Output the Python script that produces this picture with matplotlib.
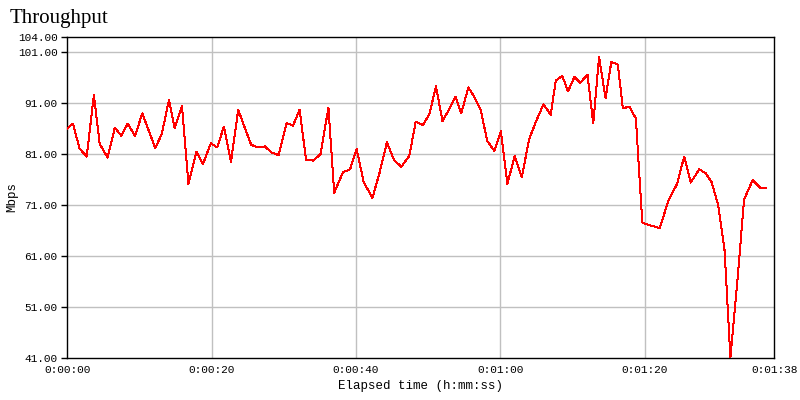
import matplotlib
matplotlib.use("Agg")
import matplotlib.pyplot as plt

# elapsed seconds of each sample and measured throughput (Mbps)
seconds = [0.0, 0.8, 1.7, 2.7, 3.7, 4.5, 5.6, 6.6, 7.5, 8.4,
           9.4, 10.4, 11.3, 12.2, 13.1, 14.1, 14.9, 15.9, 16.8, 17.9,
           18.8, 19.9, 20.8, 21.7, 22.7, 23.7, 24.6, 25.5, 26.5, 27.4,
           28.3, 29.3, 30.4, 31.3, 32.2, 33.1, 34.1, 35.1, 36.2, 37.0,
           38.2, 39.2, 40.1, 41.1, 42.3, 43.3, 44.3, 45.3, 46.3, 47.4,
           48.3, 49.3, 50.2, 51.1, 52.0, 52.9, 53.8, 54.6, 55.6, 56.5,
           57.3, 58.2, 59.2, 60.1, 61.0, 62.0, 63.0, 64.0, 65.0, 66.0,
           67.0, 67.7, 68.6, 69.4, 70.3, 71.1, 72.1, 72.9, 73.7, 74.6,
           75.4, 76.3, 77.0, 77.9, 78.8, 79.7, 80.5, 81.3, 82.1, 83.3,
           84.5, 85.5, 86.4, 87.6, 88.5, 89.3, 90.2, 91.1, 91.9, 92.9,
           93.8, 95.0, 96.0, 96.9]
mbps = [86.0, 87.0, 82.1, 80.5, 92.6, 83.0, 80.3, 86.2, 84.6, 87.0,
        84.5, 89.0, 85.6, 82.2, 84.9, 91.6, 86.1, 90.4, 75.1, 81.5,
        79.0, 83.1, 82.3, 86.4, 79.5, 89.7, 86.2, 82.8, 82.3, 82.5,
        81.3, 80.8, 87.1, 86.6, 89.7, 79.9, 79.7, 81.0, 90.1, 73.4,
        77.4, 78.0, 82.0, 75.4, 72.4, 77.4, 83.3, 79.8, 78.5, 80.6,
        87.4, 86.7, 88.9, 94.3, 87.5, 89.7, 92.3, 89.0, 94.1, 92.0,
        89.7, 83.6, 81.6, 85.5, 75.1, 80.6, 76.4, 83.9, 87.5, 90.8,
        88.7, 95.4, 96.4, 93.3, 96.2, 95.0, 96.6, 87.0, 100.1, 92.0,
        99.1, 98.6, 90.0, 90.3, 88.0, 67.5, 67.1, 66.8, 66.4, 71.8,
        75.1, 80.5, 75.4, 78.0, 77.2, 75.5, 71.0, 62.0, 41.0, 56.5,
        72.1, 75.9, 74.4, 74.4]

x_ticks = [0, 20, 40, 60, 80, 98]
x_labels = ["0:00:00", "0:00:20", "0:00:40", "0:01:00", "0:01:20", "0:01:38"]
y_ticks = [41, 51, 61, 71, 81, 91, 101, 104]

mono = "Liberation Mono"

fig = plt.figure(figsize=(8, 4), dpi=100)
ax = fig.add_axes([0.084, 0.106, 0.884, 0.8015])

ax.plot(seconds, mbps, color="#ff0000", lw=0.72, antialiased=False, zorder=3)

ax.set_xlim(0, 98)
ax.set_ylim(41, 104)
ax.set_xticks(x_ticks)
ax.set_xticklabels(x_labels, family=mono, fontsize=8)
ax.set_yticks(y_ticks)
ax.set_yticklabels(["%.2f" % v for v in y_ticks], family=mono, fontsize=8)

ax.tick_params(axis="y", length=4, width=1, pad=3, color="black")
ax.tick_params(axis="x", length=0, pad=5)

for v in y_ticks[1:-1]:
    ax.axhline(v, color="#c0c0c0", lw=1, zorder=1)
for v in x_ticks[1:-1]:
    ax.axvline(v, color="#c0c0c0", lw=1, zorder=1)

for s in ax.spines.values():
    s.set_color("black")
    s.set_linewidth(1.0)

ax.set_xlabel("Elapsed time (h:mm:ss)", family=mono, fontsize=9)
ax.xaxis.set_label_coords(0.5, -0.07)
ax.set_ylabel("Mbps", family=mono, fontsize=9)
ax.yaxis.set_label_coords(-0.069, 0.5)

fig.text(0.0125, 0.955, "Throughput", family="Liberation Serif", fontsize=15, va="center", ha="left")

fig.savefig("out.png", dpi=100)
